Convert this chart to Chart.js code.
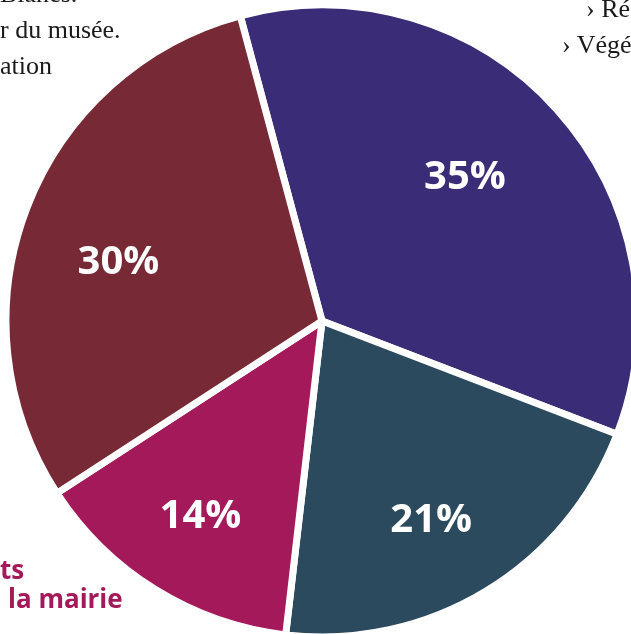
<!DOCTYPE html>
<html>
<head>
<meta charset="utf-8">
<script src="https://cdn.jsdelivr.net/npm/chart.js@4"></script>
<style>
  html, body { margin: 0; padding: 0; background: #fff; }
  body { width: 631px; height: 634px; overflow: hidden; position: relative; }
  #wrap { position: absolute; left: 0; top: -1px; width: 644px; height: 644px; }
  .serif { position: absolute; font-family: "Liberation Serif", "DejaVu Serif", serif; font-size: 26px; color: #1a1a1a; white-space: nowrap; line-height: 1; }
  .sans { position: absolute; font-family: "Open Sans", sans-serif; font-weight: 700; font-size: 26px; color: #a4195a; white-space: nowrap; line-height: 1; }
</style>
</head>
<body>
<div id="wrap"><canvas id="pie" width="644" height="644"></canvas></div>

<div class="serif" style="left:0; top:-19px;">Blancs.</div>
<div class="serif" style="left:0; top:17px;">r du musée.</div>
<div class="serif" style="left:0; top:53px;">ation</div>
<div class="serif" style="left:586px; top:-4px;">› Ré</div>
<div class="serif" style="left:562px; top:32px;">› Végét</div>
<div class="sans" style="left:0; top:556px;">ts</div>
<div class="sans" style="left:8px; top:585px;">la mairie</div>

<script>
// Slice values, clockwise from the top-left split
const labels = ['Purple', 'Teal', 'Magenta', 'Burgundy'];
const shares = [35, 21, 14, 30];
const sliceColors = ['#3b2c77', '#2b4a5e', '#a4195a', '#772935'];

// where each percentage sits, as a fraction of the radius
const labelRadius = [0.64, 0.72, 0.73, 0.67];
const labelShift = [-3, 2.5, 0, -5]; // degrees
const labelFont = 'bold 40px "Open Sans"';

const pctLabels = {
    id: 'pctLabels',
    afterDatasetsDraw(chart) {
        const ctx = chart.ctx;
        const meta = chart.getDatasetMeta(0);
        ctx.save();
        ctx.fillStyle = '#ffffff';
        ctx.font = labelFont + ', sans-serif';
        ctx.textAlign = 'center';
        ctx.textBaseline = 'middle';
        meta.data.forEach((arc, i) => {
            const p = arc.getProps(['x', 'y', 'startAngle', 'endAngle', 'outerRadius'], true);
            const mid = (p.startAngle + p.endAngle) / 2 + labelShift[i] * Math.PI / 180;
            const r = p.outerRadius * labelRadius[i];
            ctx.fillText(shares[i] + '%', p.x + Math.cos(mid) * r, p.y + Math.sin(mid) * r);
        });
        ctx.restore();
    }
};

function drawPie() {
    new Chart(document.getElementById('pie'), {
        type: 'pie',
        data: {
            labels: labels,
            datasets: [{
                data: shares,
                backgroundColor: sliceColors,
                borderColor: '#ffffff',
                borderWidth: 7
            }]
        },
        options: {
            responsive: false,
            animation: false,
            rotation: -15,
            radius: 316,
            layout: { padding: 0 },
            plugins: {
                legend: { display: false },
                tooltip: { enabled: false }
            }
        },
        plugins: [pctLabels]
    });
}

// make sure the label font is ready before the canvas draws
document.fonts.load(labelFont).then(drawPie, drawPie);
</script>
</body>
</html>
